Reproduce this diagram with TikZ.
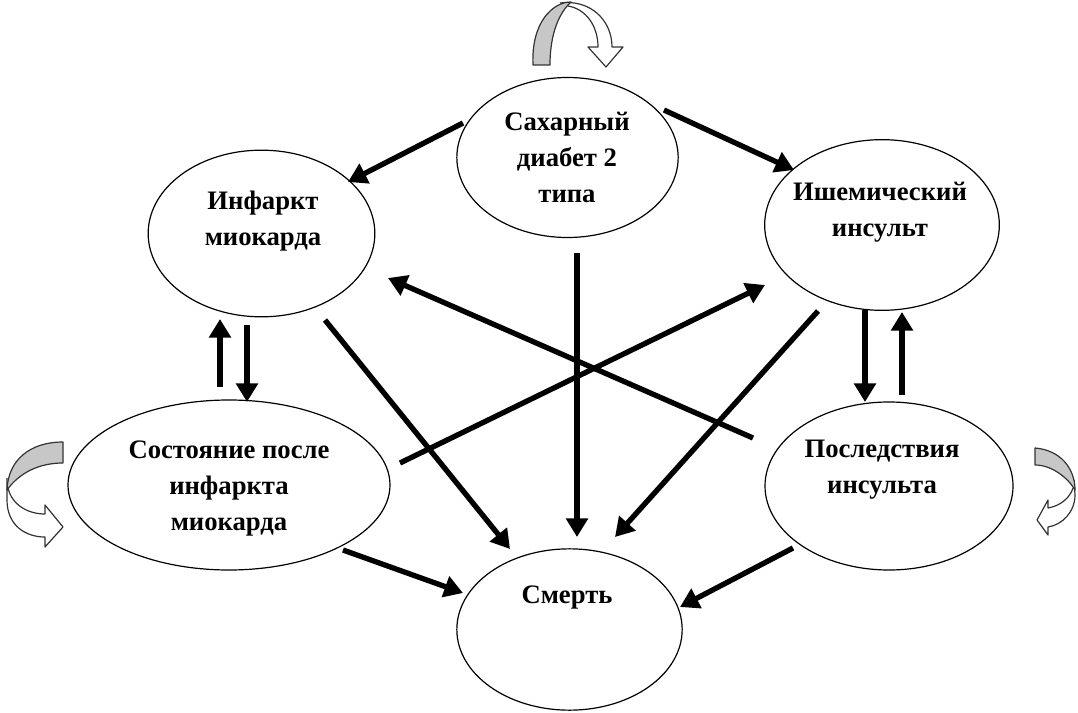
\documentclass[tikz,border=0pt]{standalone}
\usepackage{fontspec}
\setmainfont{Liberation Serif}
\usetikzlibrary{arrows.meta,shapes.geometric}
\tikzset{
  oval/.style={draw, ellipse, line width=0.9pt, inner sep=0pt},
  lbl/.style={font=\bfseries\fontsize{20}{27}\selectfont, align=center, inner sep=0pt},
  arr/.style={line width=4pt, -{Triangle[length=14pt,width=16pt]}},
  band/.style={draw=black!80, line width=0.9pt, line join=round},
}
\begin{document}
\begin{tikzpicture}[x=0.75pt,y=-0.75pt]
\useasboundingbox (0,0) rectangle (1078,713);
% ellipses
\node[oval, minimum width=166pt, minimum height=120pt] (dm) at (567.5,157.5) {};
\node[oval, minimum width=170pt, minimum height=125pt] (inf) at (261.5,233.5) {};
\node[oval, minimum width=176pt, minimum height=128pt] (isch) at (882,225) {};
\node[oval, minimum width=241.5pt, minimum height=127.5pt] (sost) at (229,485) {};
\node[oval, minimum width=186pt, minimum height=126pt] (posl) at (889,486) {};
\node[oval, minimum width=169pt, minimum height=121pt] (sm) at (569.5,629.5) {};
% labels
\node[lbl] (tdm) at (567,157) {Сахарный\\диабет 2\\типа};
\node[lbl] (tinf) at (263,221) {Инфаркт\\миокарда};
\node[lbl] (tisch) at (880,212) {Ишемический\\инсульт};
\node[lbl] (tposl) at (882,470) {Последствия\\инсульта};
\node[lbl] (tsost) at (229,489) {Состояние после\\инфаркта\\миокарда};
\node[lbl] (tsm) at (567,598) {Смерть};
% arrow end points
\coordinate (a1s) at (463,123); \coordinate (a1e) at (348,182);
\coordinate (a2s) at (664,110); \coordinate (a2e) at (794,170);
\coordinate (a3s) at (577,253); \coordinate (a3e) at (577,537);
\coordinate (a4s) at (325,320); \coordinate (a4e) at (510,549);
\coordinate (a5s) at (818,311); \coordinate (a5e) at (615,537);
\coordinate (a6s) at (400,463); \coordinate (a6e) at (765,285);
\coordinate (a7s) at (753,438); \coordinate (a7e) at (388,278);
\coordinate (a8s) at (343,550); \coordinate (a8e) at (463,593);
\coordinate (a9s) at (793,548); \coordinate (a9e) at (680,607);
\coordinate (a10s) at (220,387); \coordinate (a10e) at (220,319);
\coordinate (a11s) at (247,325); \coordinate (a11e) at (247,402);
\coordinate (a12s) at (865,310); \coordinate (a12e) at (865,402);
\coordinate (a13s) at (902,395); \coordinate (a13e) at (902,312);
\foreach \i in {1,...,13} { \draw[arr] (a\i s) -- (a\i e); }
% top curved arrow
\draw[band, fill=white] (560,3) .. controls (590,-1) and (612,20) .. (612,47) -- (623,47) -- (606,67) -- (588,47) -- (598,47) .. controls (598,26) and (586,9) .. (568,6);
\draw[band, fill=black!22] (533,65) .. controls (531,22) and (553,2) .. (571,2) .. controls (560,12) and (550,32) .. (550,65) -- cycle;
% left curved arrow
\draw[band, fill=white] (7,478) -- (7,500) .. controls (7,525) and (25,537) .. (45,537) -- (45,547) -- (63,527) -- (45,505) -- (45,514) .. controls (28,514) and (12,505) .. (8,488);
\draw[band, fill=black!22] (63,442) .. controls (30,442) and (8,460) .. (7,490) .. controls (20,472) and (40,463) .. (63,463) -- cycle;
% right curved arrow
\draw[band, fill=white] (1074,480) -- (1075,495) .. controls (1075,512) and (1062,525) .. (1048,527) -- (1048,535) -- (1037,520) -- (1048,500) -- (1048,508) .. controls (1060,506) and (1070,498) .. (1073,488);
\draw[band, fill=black!22] (1035,448) .. controls (1060,450) and (1075,468) .. (1075,490) .. controls (1068,478) and (1052,465) .. (1035,465) -- cycle;
\end{tikzpicture}
\end{document}
